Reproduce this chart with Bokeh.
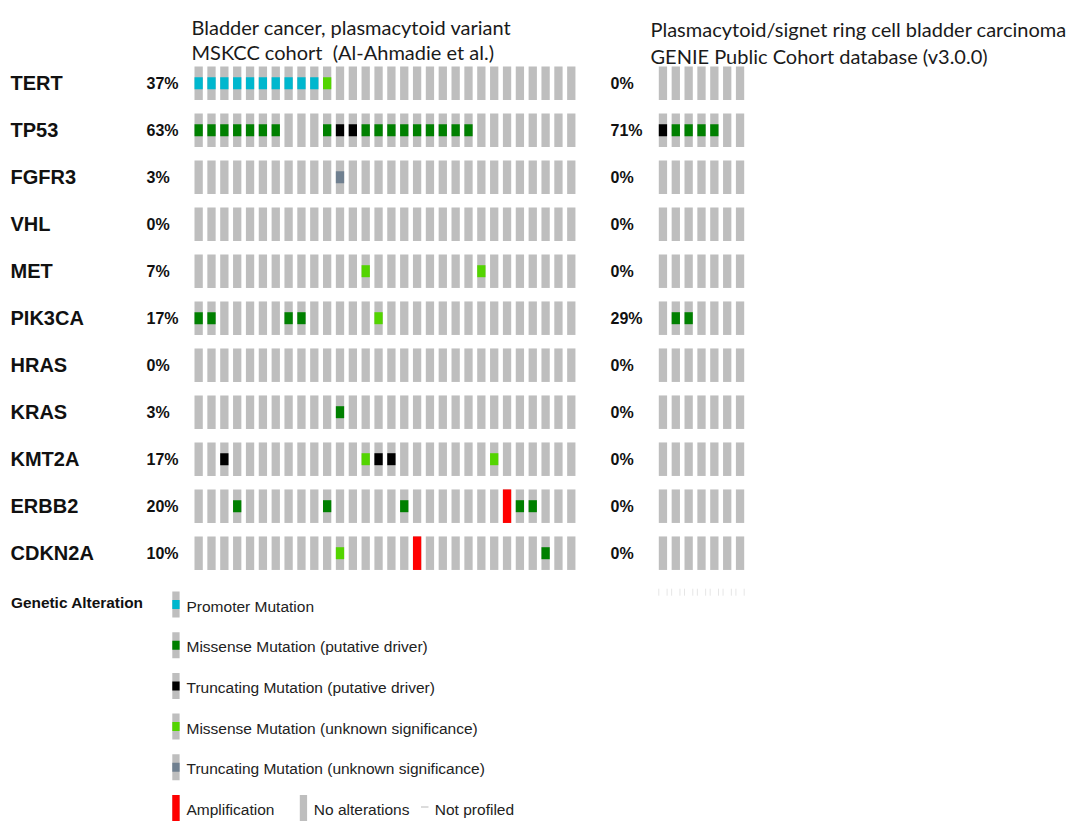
from bokeh.plotting import figure
from bokeh.models import Range1d, ColumnDataSource
from bokeh.embed import file_html
from bokeh.resources import INLINE
from bokeh.core.properties import value

# ---------------- data ----------------
genes = ["TERT", "TP53", "FGFR3", "VHL", "MET", "PIK3CA", "HRAS", "KRAS", "KMT2A", "ERBB2", "CDKN2A"]
left_pct = ["37%", "63%", "3%", "0%", "7%", "17%", "0%", "3%", "17%", "20%", "10%"]
right_pct = ["0%", "71%", "0%", "0%", "0%", "29%", "0%", "0%", "0%", "0%", "0%"]
n_left = 30
n_right = 7

left_title = ["Bladder cancer, plasmacytoid variant", "MSKCC cohort\u00a0 (Al-Ahmadie et al.)"]
right_title = ["Plasmacytoid/signet ring cell bladder carcinoma", "GENIE Public Cohort database (v3.0.0)"]

# alteration events, left cohort (gene, sample index, alteration type)
left_alt_gene = (["TERT"] * 11 + ["TP53"] * 19 + ["FGFR3"] + ["MET"] * 2 + ["PIK3CA"] * 5 + ["KRAS"]
                 + ["KMT2A"] * 5 + ["ERBB2"] * 6 + ["CDKN2A"] * 3)
left_alt_sample = ([0, 1, 2, 3, 4, 5, 6, 7, 8, 9, 10]
                   + [0, 1, 2, 3, 4, 5, 6, 10, 11, 12, 13, 14, 15, 16, 17, 18, 19, 20, 21]
                   + [11]
                   + [13, 22]
                   + [0, 1, 7, 8, 14]
                   + [11]
                   + [2, 13, 14, 15, 23]
                   + [3, 10, 16, 24, 25, 26]
                   + [11, 17, 27])
left_alt_type = (["promoter"] * 10 + ["mis_vus"]
                 + ["mis_drv"] * 8 + ["trunc_drv"] * 2 + ["mis_drv"] * 9
                 + ["trunc_vus"]
                 + ["mis_vus"] * 2
                 + ["mis_drv"] * 4 + ["mis_vus"]
                 + ["mis_drv"]
                 + ["trunc_drv", "mis_vus", "trunc_drv", "trunc_drv", "mis_vus"]
                 + ["mis_drv", "mis_drv", "mis_drv", "amp", "mis_drv", "mis_drv"]
                 + ["mis_vus", "amp", "mis_drv"])

# alteration events, right cohort
right_alt_gene = ["TP53"] * 5 + ["PIK3CA"] * 2
right_alt_sample = [0, 1, 2, 3, 4, 1, 2]
right_alt_type = ["trunc_drv", "mis_drv", "mis_drv", "mis_drv", "mis_drv", "mis_drv", "mis_drv"]

alt_types = ["promoter", "mis_drv", "trunc_drv", "mis_vus", "trunc_vus", "amp"]
alt_labels = ["Promoter Mutation", "Missense Mutation (putative driver)", "Truncating Mutation (putative driver)",
              "Missense Mutation (unknown significance)", "Truncating Mutation (unknown significance)", "Amplification"]
alt_colors = {"promoter": "#00B7CE", "mis_drv": "#008000", "trunc_drv": "#000000",
              "mis_vus": "#53D400", "trunc_vus": "#708090", "amp": "#FF0000"}

# ---------------- layout ----------------
W, H = 1070, 821
ROW0, ROW_PITCH = 82.7, 47.0
BAR_H, MUT_H = 33.5, 12.0
COL_PITCH, BAR_W = 12.85, 8.3
LEFT_X0, RIGHT_X0 = 194.0, 658.3
GREY = "#BEBEBE"
SANS = value("Liberation Sans")
TITLE_FONT = value("Lato")

p = figure(width=W, height=H, x_range=Range1d(0, W), y_range=Range1d(H, 0),
           output_backend="svg", toolbar_location=None, min_border=0,
           background_fill_color="white", border_fill_color="white")
p.xaxis.visible = False
p.yaxis.visible = False
p.grid.visible = False
p.outline_line_color = None

row_y = {g: ROW0 + i * ROW_PITCH for i, g in enumerate(genes)}


def col_x(x0, i):
    return x0 + i * COL_PITCH + BAR_W / 2


# background grey bars
for x0, n in [(LEFT_X0, n_left), (RIGHT_X0, n_right)]:
    xs, ys = [], []
    for g in genes:
        for i in range(n):
            xs.append(col_x(x0, i))
            ys.append(row_y[g])
    p.rect(x=xs, y=ys, width=BAR_W, height=BAR_H, fill_color=GREY, line_color=None)

# faint "not profiled" trace below right cohort
np_y = ROW0 + len(genes) * ROW_PITCH - 8
np_l = [col_x(RIGHT_X0, i) - BAR_W / 2 for i in range(n_right)]
np_r = [col_x(RIGHT_X0, i) + BAR_W / 2 for i in range(n_right)]
p.segment(x0=np_l + np_r, y0=[np_y - 3.5] * (2 * n_right), x1=np_l + np_r, y1=[np_y + 3.5] * (2 * n_right),
          line_color="#E6E6E6", line_width=1)

# alterations
for x0, ag, asmp, at in [(LEFT_X0, left_alt_gene, left_alt_sample, left_alt_type),
                         (RIGHT_X0, right_alt_gene, right_alt_sample, right_alt_type)]:
    src = ColumnDataSource(dict(
        x=[col_x(x0, s) for s in asmp],
        y=[row_y[g] for g in ag],
        h=[BAR_H if t == "amp" else MUT_H for t in at],
        c=[alt_colors[t] for t in at],
    ))
    p.rect(x="x", y="y", width=BAR_W, height="h", fill_color="c", line_color=None, source=src)

# gene labels & percentages
p.text(x=[10] * len(genes), y=[row_y[g] for g in genes], text=genes, text_font=SANS,
       text_font_size="20px", text_font_style="bold", text_baseline="middle", text_color="#111111")
p.text(x=[146] * len(genes), y=[row_y[g] for g in genes], text=left_pct, text_font=SANS,
       text_font_size="16px", text_font_style="bold", text_baseline="middle", text_color="#111111")
p.text(x=[610] * len(genes), y=[row_y[g] for g in genes], text=right_pct, text_font=SANS,
       text_font_size="16px", text_font_style="bold", text_baseline="middle", text_color="#111111")

# titles
p.text(x=[191, 191], y=[26.7, 51.7], text=left_title, text_font=TITLE_FONT,
       text_font_size="20px", text_baseline="alphabetic", text_color="#1a1a1a")
p.text(x=[650, 650], y=[28.3, 55.0], text=right_title, text_font=TITLE_FONT,
       text_font_size="20px", text_baseline="alphabetic", text_color="#1a1a1a")

# legend
LEG_X, LEG_Y0, LEG_PITCH, LEG_H, LEG_W = 171.8, 604.0, 40.7, 26.0, 7.3
LEG_FS = "15.5px"
leg_y = [LEG_Y0 + k * LEG_PITCH for k in range(len(alt_types))]
p.text(x=[10.5], y=[602], text=["Genetic Alteration"], text_font=SANS, text_font_size="15.4px",
       text_font_style="bold", text_baseline="middle", text_color="#111111")
p.rect(x=[LEG_X + LEG_W / 2] * len(alt_types), y=leg_y, width=LEG_W, height=LEG_H,
       fill_color=GREY, line_color=None)
p.rect(x=[LEG_X + LEG_W / 2] * len(alt_types), y=leg_y, width=LEG_W,
       height=[LEG_H if t == "amp" else 9 for t in alt_types],
       fill_color=[alt_colors[t] for t in alt_types], line_color=None)
p.text(x=[186] * len(alt_types), y=[v + 1.5 for v in leg_y], text=alt_labels, text_font=SANS,
       text_font_size=LEG_FS, text_baseline="middle", text_color="#222222")
# no alterations / not profiled
last_y = leg_y[-1]
p.rect(x=[299.3 + LEG_W / 2], y=[last_y], width=LEG_W, height=LEG_H, fill_color=GREY, line_color=None)
p.text(x=[313.3], y=[last_y + 1.5], text=["No alterations"], text_font=SANS, text_font_size=LEG_FS,
       text_baseline="middle", text_color="#222222")
p.segment(x0=[420.5], y0=[last_y - 1], x1=[428], y1=[last_y - 1], line_color="#D0D0D0", line_width=1.5)
p.text(x=[434.3], y=[last_y + 1.5], text=["Not profiled"], text_font=SANS, text_font_size=LEG_FS,
       text_baseline="middle", text_color="#222222")

open("out.html", "w").write(file_html(p, INLINE))
